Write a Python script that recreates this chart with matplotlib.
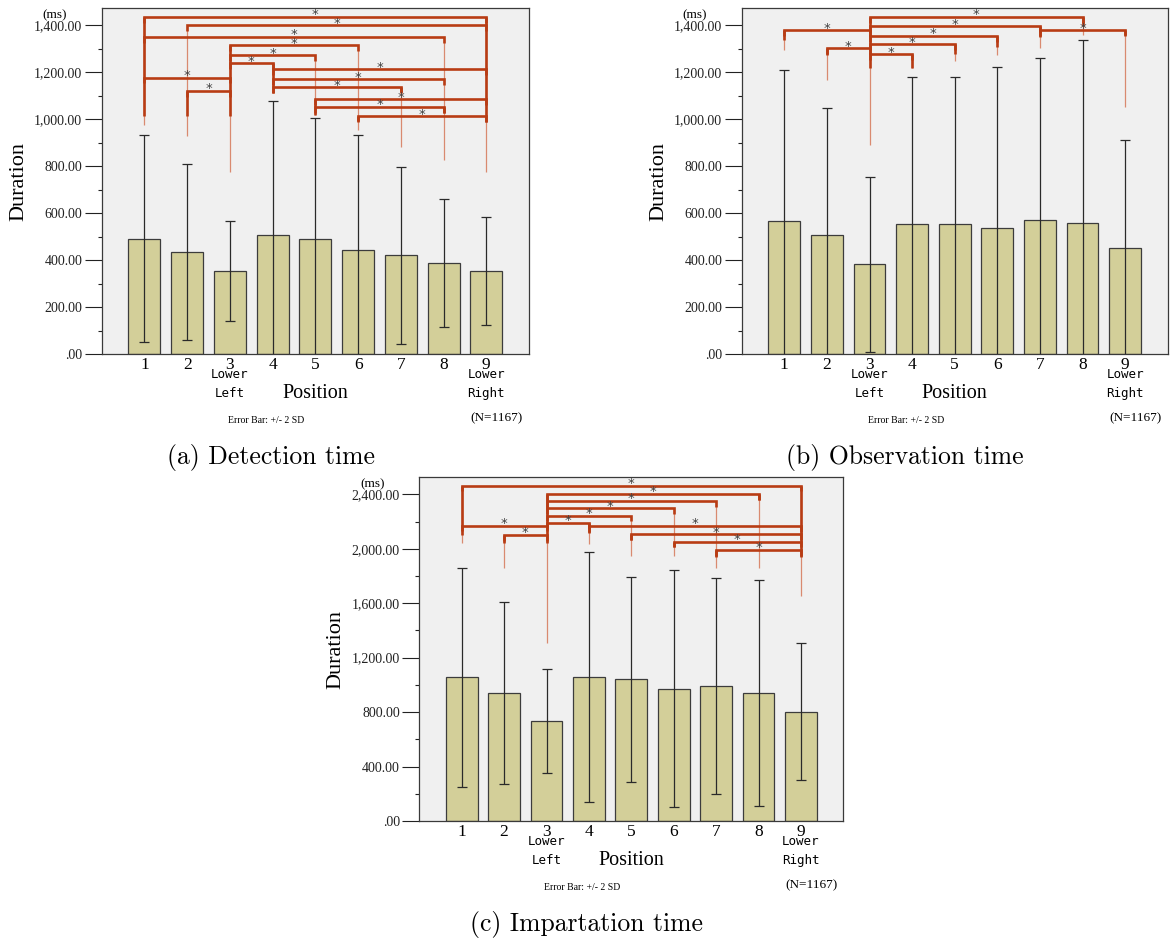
"""
三个时间指标的分位置柱状图 (误差线 ±2SD) 及显著性标记
"""
import numpy as np
import matplotlib.pyplot as plt
from matplotlib.ticker import FuncFormatter, MultipleLocator, AutoMinorLocator

positions = np.arange(1, 10)

# (a) Detection time
det_mean = [491, 434, 353, 506, 491, 441, 421, 387, 354]
det_err = [441, 376, 212, 572, 516, 491, 377, 273, 229]  # 2 SD
det_pairs = [(1, 9), (2, 9), (1, 8), (3, 6), (3, 5), (3, 4), (4, 9),
             (1, 3), (4, 8), (4, 7), (2, 3), (5, 9), (5, 8), (6, 9)]
det_levels = [1435, 1400, 1350, 1315, 1272, 1237, 1213,
              1177, 1170, 1135, 1120, 1085, 1052, 1013]
det_thick_hi = [1435, 1120, 1315, 1237, 1085, 1013, 1135, 1052, 1435]
det_thick_lo = [1013, 1013, 1013, 1112, 1017, 993, 1115, 1027, 988]
det_thin_lo = [977, 928, 773, 1112, 1017, 953, 880, 828, 773]

# (b) Observation time
obs_mean = [566, 506, 382, 553, 553, 535, 572, 557, 451]
obs_err = [645, 541, 373, 626, 626, 686, 688, 779, 461]
obs_pairs = [(3, 8), (3, 7), (7, 9), (1, 3), (3, 6), (3, 5), (2, 3), (3, 4)]
obs_levels = [1435, 1396, 1379, 1379, 1354, 1318, 1301, 1277]
obs_thick_hi = [1379, 1301, 1435, 1277, 1318, 1354, 1396, 1435, 1379]
obs_thick_lo = [1336, 1272, 1218, 1218, 1279, 1308, 1350, 1396, 1357]
obs_thin_lo = [1296, 1166, 892, 1218, 1248, 1272, 1305, 1357, 1052]

# (c) Impartation time
imp_mean = [1055, 938, 732, 1060, 1041, 972, 992, 943, 803]
imp_err = [806, 668, 382, 919, 754, 869, 791, 830, 505]
imp_pairs = [(1, 9), (3, 8), (3, 7), (3, 6), (3, 5), (3, 4), (1, 3),
             (4, 9), (5, 9), (2, 3), (6, 9), (7, 9)]
imp_levels = [2463, 2402, 2351, 2297, 2243, 2191, 2169,
              2167, 2106, 2101, 2052, 1991]
imp_thick_hi = [2463, 2101, 2402, 2191, 2106, 2052, 1991, 2402, 2463]
imp_thick_lo = [2101, 2040, 2040, 2113, 2064, 2015, 1941, 2358, 1941]
imp_thin_lo = [2040, 1856, 1310, 2033, 1947, 1947, 1856, 1856, 1653]

SERIF = 'Liberation Serif'
MONO = 'DejaVu Sans Mono'
BAR = '#d3cf99'
RED = '#b83c14'
THIN = '#d98a70'
W, H = 1171, 940


def yfmt(v, _):
    s = f'{v:,.2f}'
    return s[1:] if s.startswith('0') else s


def under(ax, x, dy, text, **kw):
    # 轴下方文字, dy 为像素
    ax.annotate(text, xy=(x, 0), xycoords=('data', 'axes fraction'),
                xytext=(0, -dy * 0.72), textcoords='offset points',
                ha='center', va='center', annotation_clip=False, **kw)


def draw_panel(ax, mean, err, ytop, step, pairs, levels, thick_hi, thick_lo, thin_lo, stub, wpx):
    ax.set_facecolor('#f0f0f0')
    ax.bar(positions, mean, width=0.75, color=BAR, edgecolor='#3c3c3c', linewidth=0.9, zorder=2)
    ax.errorbar(positions, mean, yerr=err, fmt='none', ecolor='#2a2a2a',
                elinewidth=0.9, capsize=3.8, capthick=0.9, zorder=3)
    ax.set_xlim(0, 10)
    ax.set_ylim(0, ytop)
    ax.yaxis.set_major_locator(MultipleLocator(step))
    ax.yaxis.set_minor_locator(AutoMinorLocator(2))
    ax.yaxis.set_major_formatter(FuncFormatter(yfmt))
    ax.tick_params(axis='y', which='major', length=12.5, width=0.8, pad=1.5,
                   labelsize=10, colors='#222222')
    ax.tick_params(axis='y', which='minor', length=3, width=0.8, colors='#222222')
    for lab in ax.get_yticklabels():
        lab.set_fontfamily(SERIF)
    ax.set_xticks(positions)
    ax.set_xticklabels([])
    ax.tick_params(axis='x', length=0)
    for s in ax.spines.values():
        s.set_color('#3a3a3a')
        s.set_linewidth(0.9)
    ax.set_ylabel('Duration', fontfamily=SERIF, fontsize=16, va='center')
    ax.yaxis.set_label_coords(-83 / wpx, 0.5)
    ax.annotate('(ms)', xy=(0, 1), xycoords='axes fraction', xytext=(-47 * 0.72, -7 * 0.72),
                textcoords='offset points', ha='center', va='center',
                fontfamily=SERIF, fontsize=9.5)

    # 显著性标记
    top = {p: max(lv for (a, b), lv in zip(pairs, levels) if p in (a, b)) for p in positions}
    for k, p in enumerate(positions):
        ax.vlines(p, thin_lo[k], top[p], colors=THIN, linewidth=0.9, zorder=4)
        ax.vlines(p, thick_lo[k], thick_hi[k], colors=RED, linewidth=1.9, zorder=5)
    for (a, b), lv in zip(pairs, levels):
        ax.plot([a, a, b, b], [lv - stub, lv, lv, lv - stub], color=RED, lw=1.9,
                solid_joinstyle='miter', solid_capstyle='butt', zorder=5)
        ax.annotate('*', xy=((a + b) / 2, lv), xytext=(0, -3.2), textcoords='offset points',
                    ha='center', va='bottom', fontsize=9.5, color='#404040', zorder=6)

    # x 轴文字
    for p in positions:
        under(ax, p, 11, str(p), fontfamily=SERIF, fontsize=12.5)
    for p, word in [(3, 'Left'), (9, 'Right')]:
        under(ax, p, 20.5, 'Lower', fontfamily=MONO, fontsize=9)
        under(ax, p, 39.5, word, fontfamily=MONO, fontsize=9)
    under(ax, 5, 39.5, 'Position', fontfamily=SERIF, fontsize=14.5)
    under(ax, 3.85, 67, 'Error Bar: +/- 2 SD', fontfamily=SERIF, fontsize=7)
    under(ax, 9.25, 64, '(N=1167)', fontfamily=SERIF, fontsize=9.5)


if __name__ == "__main__":
    fig = plt.figure(figsize=(W / 100, H / 100), dpi=100)

    ax_a = fig.add_axes([101.7 / W, 1 - 354 / H, 427.3 / W, 345.7 / H])
    ax_b = fig.add_axes([741.7 / W, 1 - 354 / H, 426 / W, 345.7 / H])
    ax_c = fig.add_axes([419.3 / W, 1 - 821 / H, 424 / W, 343.7 / H])

    draw_panel(ax_a, det_mean, det_err, 1472, 200, det_pairs, det_levels,
               det_thick_hi, det_thick_lo, det_thin_lo, 25, 427.3)
    draw_panel(ax_b, obs_mean, obs_err, 1472, 200, obs_pairs, obs_levels,
               obs_thick_hi, obs_thick_lo, obs_thin_lo, 25, 426)
    draw_panel(ax_c, imp_mean, imp_err, 2525, 400, imp_pairs, imp_levels,
               imp_thick_hi, imp_thick_lo, imp_thin_lo, 42, 424)

    # 子图标题
    for x, y, txt in [(271, 457, '(a) Detection time'),
                      (905, 457, '(b) Observation time'),
                      (587, 925, '(c) Impartation time')]:
        fig.text(x / W, 1 - y / H, txt, ha='center', va='center', fontfamily='cmr10', fontsize=18.5)

    plt.savefig('out.png', dpi=100)
